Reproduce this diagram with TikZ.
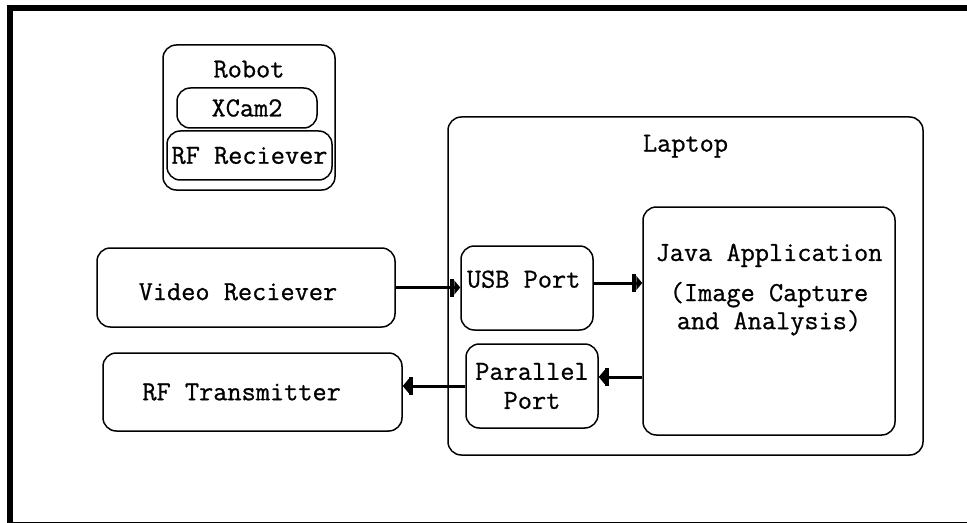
\documentclass[tikz,border=0pt]{standalone}
\usepackage{fontspec}
\newfontfamily\diagfont{Latin Modern Mono}[FakeBold=0.8]
\usetikzlibrary{arrows.meta,calc}

\tikzset{
  boxfont/.style={font=\diagfont\fontsize{23.5}{24}\selectfont, align=center},
  box/.style={draw, rounded corners=4mm, line width=0.45mm, inner sep=0pt, boxfont},
  link/.style={line width=0.9mm, -{Bar[width=5.4mm,line width=1.2mm,sep=0pt]Triangle[length=1.8mm,width=4.2mm]}}
}

\begin{document}
\begin{tikzpicture}[x=0.3mm, y=-0.3mm]
    \useasboundingbox (0,0) rectangle (967,523);
    % frame
    \draw[line width=1.8mm] (10,8) rectangle (975,525);

    % robot
    \node[box, minimum width=172*0.3mm, minimum height=145*0.3mm,
          label={[boxfont, anchor=center, yshift=-7.5mm]north:Robot}] (robot) at (249,117.5) {};
    \node[box, minimum width=140*0.3mm, minimum height=40*0.3mm] (xcam) at (247,108) {XCam2};
    \node[box, minimum width=165*0.3mm, minimum height=49*0.3mm] (rfrec) at (249.5,155.5) {RF Reciever};

    % laptop
    \node[box, minimum width=475*0.3mm, minimum height=338*0.3mm,
          label={[boxfont, anchor=center, yshift=-9mm]north:Laptop}] (laptop) at (685.5,286) {};
    \node[box, minimum width=132*0.3mm, minimum height=84*0.3mm,
          label={[boxfont, anchor=center, yshift=-10.2mm, xshift=-1mm]north:USB Port}] (usb) at (527,288) {};
    \node[box, minimum width=132*0.3mm, minimum height=84*0.3mm] (par) at (532,386) {Parallel\\[0.3mm]Port};
    \node[box, minimum width=252*0.3mm, minimum height=228*0.3mm,
          label={[boxfont, anchor=north, yshift=-10mm]north:{Java Application\\[3.6mm](Image Capture\\and Analysis)}}] (java) at (769,321) {};

    % outside boxes
    \node[box, minimum width=298*0.3mm, minimum height=79*0.3mm,
          label={[boxfont, anchor=west, xshift=11.5mm, yshift=-1.3mm]west:Video Reciever}] (video) at (246,287.5) {};
    \node[box, minimum width=299*0.3mm, minimum height=78*0.3mm,
          label={[boxfont, anchor=west, xshift=10.8mm]west:RF Transmitter}] (rftx) at (252.5,392) {};

    \draw[link] (video.east) -- (video.east -| usb.west);
    \draw[link] ([yshift=1.5mm]usb.east) -- ([yshift=1.5mm]usb.east -| java.west);
    \draw[link] ([yshift=2.7mm]par.east -| java.west) -- ([yshift=2.7mm]par.east);
    \draw[link] (par.west) -- (par.west -| rftx.east);
\end{tikzpicture}
\end{document}
